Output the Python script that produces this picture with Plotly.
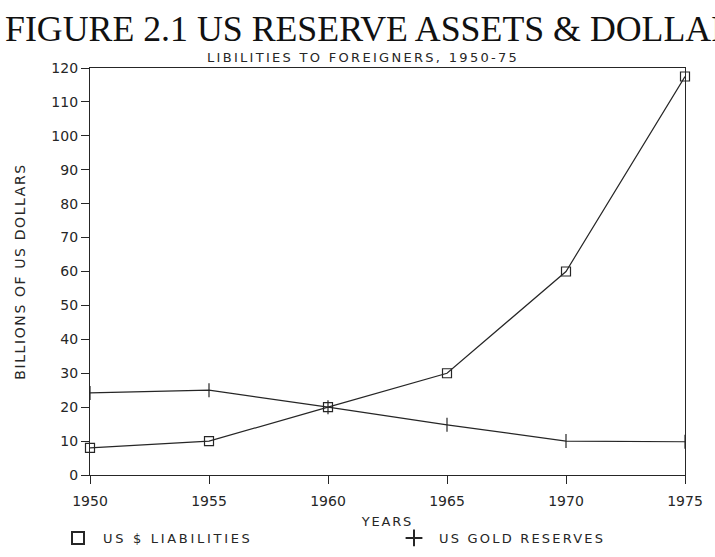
import plotly.graph_objects as go

years = [1950, 1955, 1960, 1965, 1970, 1975]
liabilities = [8, 10, 20, 30, 60, 117.5]
gold_reserves = [24.2, 25, 20, 14.8, 10, 9.8]
x_ticks = [1950, 1955, 1960, 1965, 1970, 1975]
y_ticks = list(range(0, 121, 10))

INK = "#262626"
FONT = "DejaVu Sans"

W, H = 715, 557
L, R, T, B = 90, 30, 68, 82
pw, ph = W - L - R, H - T - B

def px(xp):
    return (xp - L) / pw

def py(yp):
    return (H - B - yp) / ph

def spaced(text, sp):
    return f'<span style="letter-spacing:{sp}px">{text}</span>'

fig = go.Figure()
fig.add_trace(go.Scatter(x=years, y=liabilities, mode="lines+markers",
                         line=dict(color=INK, width=1.2),
                         marker=dict(symbol="square-open", size=9, color=INK, line=dict(width=1.2)),
                         cliponaxis=False, showlegend=False))
fig.add_trace(go.Scatter(x=years, y=gold_reserves, mode="lines+markers",
                         line=dict(color=INK, width=1.2),
                         marker=dict(symbol="line-ns", size=10, color=INK, line=dict(width=1.2, color=INK)),
                         cliponaxis=False, showlegend=False))
# legend entries (markers only)
fig.add_trace(go.Scatter(x=[None], y=[None], mode="markers", name=spaced("US $ LIABILITIES", 2.7),
                         legend="legend",
                         marker=dict(symbol="square-open", size=8, color=INK, line=dict(width=1.3))))
fig.add_trace(go.Scatter(x=[None], y=[None], mode="markers", name=spaced("US GOLD RESERVES", 2.2),
                         legend="legend2",
                         marker=dict(symbol="cross-thin", size=8, color=INK, line=dict(width=1.3, color=INK))))

legend_common = dict(orientation="h", xanchor="left", yanchor="middle",
                     font=dict(family=FONT, size=13, color=INK), itemsizing="constant",
                     itemwidth=40, bgcolor="rgba(0,0,0,0)")

fig.update_layout(
    width=W, height=H,
    margin=dict(l=L, r=R, t=T, b=B, pad=0, autoexpand=False),
    paper_bgcolor="white", plot_bgcolor="white",
    font=dict(family=FONT, color=INK, size=14),
    showlegend=True,
    legend=dict(x=px(53), y=py(538), **legend_common),
    legend2=dict(x=px(389), y=py(538), **legend_common),
    xaxis=dict(range=[1950, 1975], tickvals=x_ticks, ticks="outside", ticklen=8,
               tickcolor=INK, showline=True, linecolor=INK, linewidth=1.2, mirror=True,
               showgrid=False, zeroline=False, ticklabelstandoff=5, automargin=False,
               tickfont=dict(family=FONT, size=14, color=INK),
               title=dict(text=spaced("YEARS", 1.8), font=dict(family=FONT, size=13, color=INK), standoff=8)),
    yaxis=dict(range=[0, 120], tickvals=y_ticks, ticks="outside", ticklen=8,
               tickcolor=INK, showline=True, linecolor=INK, linewidth=1.2, mirror=True,
               showgrid=False, zeroline=False, automargin=False,
               tickfont=dict(family=FONT, size=14, color=INK),
               title=dict(text=spaced("BILLIONS OF US DOLLARS", 1.6), font=dict(family=FONT, size=14, color=INK), standoff=22)),
)

fig.add_annotation(text="FIGURE 2.1 US RESERVE ASSETS &amp; DOLLAR", xref="paper", yref="paper",
                   x=px(3), y=py(29), xanchor="left", yanchor="middle", showarrow=False,
                   font=dict(family="Liberation Serif", size=35.8, color="#111"))
fig.add_annotation(text=spaced("LIBILITIES TO FOREIGNERS, 1950-75", 2.3), xref="paper", yref="paper",
                   x=px(363), y=py(57), xanchor="center", yanchor="middle", showarrow=False,
                   font=dict(family=FONT, size=13, color=INK))

fig.write_html("out.html")
